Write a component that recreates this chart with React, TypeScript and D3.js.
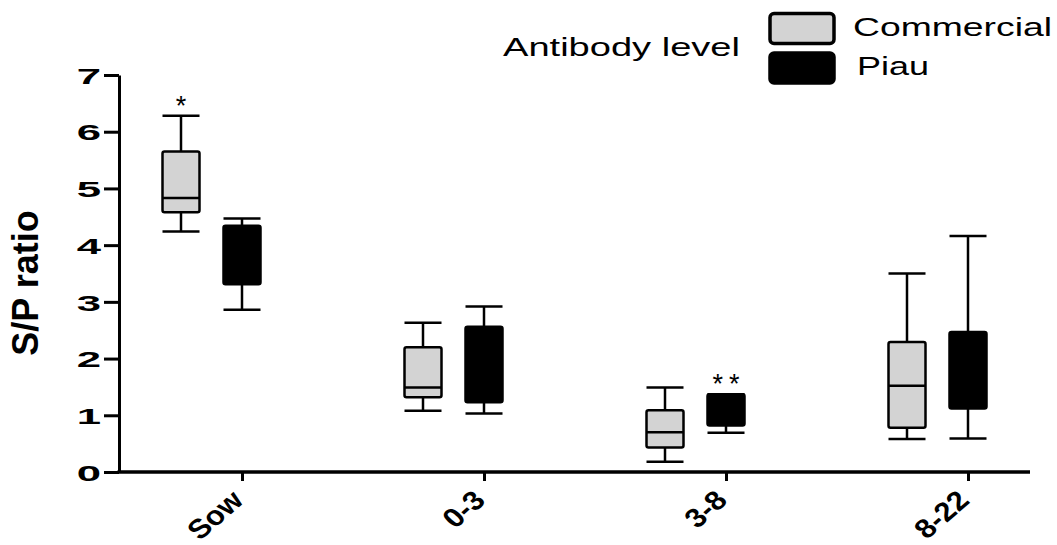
import React, { useRef, useEffect } from 'react';
import * as d3 from 'd3';

// age groups and the two herds
const categories = ['Sow', '0-3', '3-8', '8-22'];
const series = ['Commercial', 'Piau'];

// box plot stats (S/P ratio)
const commercialMin = [4.24, 1.08, 0.18, 0.58];
const commercialQ1 = [4.58, 1.32, 0.43, 0.78];
const commercialMedian = [4.83, 1.49, 0.7, 1.52];
const commercialQ3 = [5.65, 2.2, 1.09, 2.29];
const commercialMax = [6.28, 2.63, 1.49, 3.5];

const piauMin = [2.86, 1.03, 0.69, 0.59];
const piauQ1 = [3.31, 1.23, 0.82, 1.12];
const piauMedian = [3.9, 1.9, 1.0, 1.8];
const piauQ3 = [4.34, 2.56, 1.37, 2.47];
const piauMax = [4.47, 2.92, 1.37, 4.16];

const commercialMarks = ['*', '', '', ''];
const piauMarks = ['', '', '**', ''];

const yTicks = [0, 1, 2, 3, 4, 5, 6, 7];

const FONT = 'Liberation Sans, Arial, Helvetica, sans-serif';

const App = () => {
  const svgRef = useRef<SVGSVGElement>(null);

  useEffect(() => {
    const width = 1057;
    const height = 545;
    const axisX = 119;
    const axisEnd = 1030;

    const svg = d3.select(svgRef.current);
    svg.selectAll('*').remove();
    svg.attr('width', width).attr('height', height);

    const x = d3.scalePoint().domain(categories).range([242, 968]);
    const offset = d3.scalePoint().domain(series).range([-61, 0]);
    const y = d3.scaleLinear().domain([0, 7]).range([472, 75]);
    const color = d3.scaleOrdinal<string>().domain(series).range(['#d3d3d3', '#000000']);

    const boxW = 37;

    const rows = series.flatMap((s) =>
      categories.map((c, i) => {
        const isC = s === 'Commercial';
        return {
          cat: c,
          series: s,
          min: isC ? commercialMin[i] : piauMin[i],
          q1: isC ? commercialQ1[i] : piauQ1[i],
          median: isC ? commercialMedian[i] : piauMedian[i],
          q3: isC ? commercialQ3[i] : piauQ3[i],
          max: isC ? commercialMax[i] : piauMax[i],
          mark: isC ? commercialMarks[i] : piauMarks[i],
        };
      })
    );

    const boxes = svg.append('g')
      .selectAll('g')
      .data(rows)
      .join('g')
      .attr('transform', (d) => `translate(${x(d.cat)! + offset(d.series)!},0)`);

    // whiskers
    boxes.append('line')
      .attr('x1', 0).attr('x2', 0)
      .attr('y1', (d) => y(d.max)).attr('y2', (d) => y(d.min))
      .attr('stroke', '#000').attr('stroke-width', 2.5);
    boxes.append('line')
      .attr('x1', -boxW / 2).attr('x2', boxW / 2)
      .attr('y1', (d) => y(d.max)).attr('y2', (d) => y(d.max))
      .attr('stroke', '#000').attr('stroke-width', 2.5);
    boxes.append('line')
      .attr('x1', -boxW / 2).attr('x2', boxW / 2)
      .attr('y1', (d) => y(d.min)).attr('y2', (d) => y(d.min))
      .attr('stroke', '#000').attr('stroke-width', 2.5);

    // boxes
    boxes.append('rect')
      .attr('x', -boxW / 2)
      .attr('width', boxW)
      .attr('y', (d) => y(d.q3))
      .attr('height', (d) => y(d.q1) - y(d.q3))
      .attr('rx', 2)
      .attr('fill', (d) => color(d.series))
      .attr('stroke', '#000').attr('stroke-width', 2.5);

    // median
    boxes.append('line')
      .attr('x1', -boxW / 2).attr('x2', boxW / 2)
      .attr('y1', (d) => y(d.median)).attr('y2', (d) => y(d.median))
      .attr('stroke', '#000').attr('stroke-width', 2.5);

    // significance asterisks
    boxes.filter((d) => d.mark !== '')
      .append('text')
      .text((d) => d.mark)
      .attr('x', 0)
      .attr('y', (d) => y(d.max) - 1)
      .attr('text-anchor', 'middle')
      .style('font-family', FONT)
      .style('font-size', '27px')
      .style('letter-spacing', (d) => (d.mark.length > 1 ? '6px' : '0px'))
      .attr('dx', (d) => (d.mark.length > 1 ? 3 : 0))
      .attr('fill', '#000');

    // y axis
    const yAxis = svg.append('g')
      .attr('transform', `translate(${axisX},0)`)
      .call(d3.axisLeft(y).tickValues(yTicks).tickFormat(d3.format('d')).tickSize(15).tickSizeOuter(0));
    yAxis.select('.domain').attr('stroke-width', 3);
    yAxis.selectAll('.tick line').attr('stroke-width', 3);
    yAxis.selectAll('.tick text')
      .attr('x', 0)
      .attr('transform', 'translate(-18,0) scale(1.9,1)')
      .attr('dy', '0.36em')
      .style('font-family', FONT)
      .style('font-weight', 'bold')
      .style('font-size', '23px')
      .attr('fill', '#000');

    // x axis
    svg.append('line')
      .attr('x1', axisX - 1.5).attr('x2', axisEnd)
      .attr('y1', y(0)).attr('y2', y(0))
      .attr('stroke', '#000').attr('stroke-width', 3.5);
    const xAxis = svg.append('g')
      .attr('transform', `translate(0,${y(0)})`)
      .call(d3.axisBottom(x).tickSize(9).tickSizeOuter(0));
    xAxis.select('.domain').remove();
    xAxis.selectAll('.tick line').attr('stroke-width', 3);
    xAxis.selectAll('.tick text').remove();

    svg.append('g')
      .selectAll('text')
      .data(categories)
      .join('text')
      .text((d) => d)
      .attr('transform', (d) => `translate(${x(d)! + 3},${y(0) + 30}) scale(1.15,1) rotate(-45)`)
      .attr('text-anchor', 'end')
      .style('font-family', FONT)
      .style('font-weight', 'bold')
      .style('font-size', '27px')
      .attr('fill', '#000');

    // y axis title
    svg.append('text')
      .text('S/P ratio')
      .attr('transform', 'translate(38,283) rotate(-90)')
      .attr('text-anchor', 'middle')
      .style('font-family', FONT)
      .style('font-weight', 'bold')
      .style('font-size', '36px')
      .attr('fill', '#000');

    // legend
    const legend = svg.append('g');
    legend.append('text')
      .text('Antibody level')
      .attr('x', 503).attr('y', 56)
      .attr('textLength', 237)
      .attr('lengthAdjust', 'spacingAndGlyphs')
      .style('font-family', FONT)
      .style('font-size', '25px')
      .attr('fill', '#000');

    const legendRows = legend.selectAll('g')
      .data(series)
      .join('g')
      .attr('transform', (d, i) => `translate(770,${13.5 + i * 39.5})`);
    legendRows.append('rect')
      .attr('width', 64).attr('height', 30)
      .attr('rx', 4)
      .attr('fill', (d) => color(d))
      .attr('stroke', '#000').attr('stroke-width', 3.5);
    legendRows.append('text')
      .text((d) => d)
      .attr('x', (d, i) => (i === 0 ? 83 : 87))
      .attr('y', 22)
      .attr('textLength', (d, i) => (i === 0 ? 199 : 72))
      .attr('lengthAdjust', 'spacingAndGlyphs')
      .style('font-family', FONT)
      .style('font-size', '25px')
      .attr('fill', '#000');
  }, []);

  return (
    <div style={{ position: 'absolute', left: 0, top: 0, background: '#fff' }}>
      <svg ref={svgRef} style={{ display: 'block' }}></svg>
    </div>
  );
};

export default App;
